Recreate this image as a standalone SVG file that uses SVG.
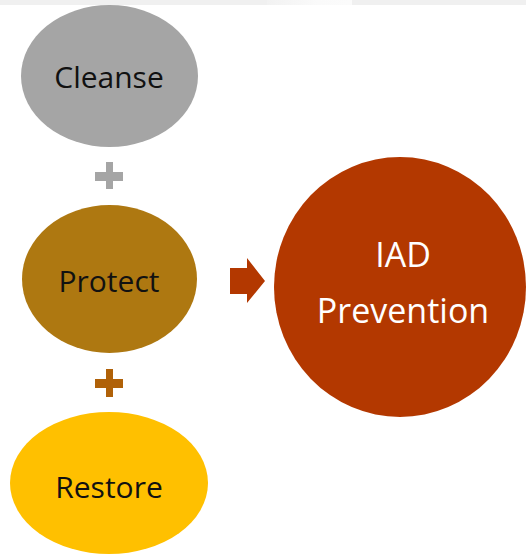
<svg xmlns="http://www.w3.org/2000/svg" width="526" height="556" viewBox="0 0 526 556">
  <style>
    .lbl { font-family: "Open Sans", "Noto Sans", "Liberation Sans", sans-serif; text-anchor: middle; }
    .dark { fill: #111111; font-size: 30px; }
    .light { fill: #ffffff; font-size: 34px; }
  </style>
  <defs>
    <linearGradient id="stripGlow" x1="0" y1="0" x2="1" y2="0">
      <stop offset="0" stop-color="#f2f2f2"/>
      <stop offset="0.6" stop-color="#fafafa"/>
      <stop offset="1" stop-color="#fbfbfb"/>
    </linearGradient>
  </defs>

  <rect x="0" y="0" width="526" height="556" fill="#ffffff"/>
  <!-- top strip -->
  <rect x="0" y="0" width="526" height="5" fill="#f0f0f0"/>
  <rect x="267" y="0" width="85" height="5" fill="url(#stripGlow)"/>

  <g id="cleanse">
    <ellipse cx="109.5" cy="76" rx="88.5" ry="71" fill="#a5a5a5"/>
    <text class="lbl dark" x="109" y="88">Cleanse</text>
  </g>

  <g id="protect">
    <ellipse cx="109.5" cy="279" rx="87.5" ry="74" fill="#ae7811"/>
    <text class="lbl dark" x="109" y="292">Protect</text>
  </g>

  <g id="restore">
    <ellipse cx="109" cy="483" rx="99" ry="71" fill="#ffc000"/>
    <text class="lbl dark" x="109" y="498">Restore</text>
  </g>

  <g id="iad-prevention">
    <ellipse cx="400" cy="287" rx="126" ry="130" fill="#b33800"/>
    <text class="lbl light" x="403" y="267">IAD</text>
    <text class="lbl light" x="403" y="323">Prevention</text>
  </g>

  <g id="connectors">
    <!-- plus between Cleanse and Protect -->
    <path d="M106 162 H113 V172 H123 V181 H113 V189 H106 V181 H95 V172 H106 Z" fill="#a5a5a5"/>
    <!-- plus between Protect and Restore -->
    <path d="M106 369 H113 V379 H123 V388 H113 V397 H106 V388 H95 V379 H106 Z" fill="#b06108"/>
    <!-- arrow into IAD Prevention -->
    <path d="M230 268 H247 V258 L265 281 L247 303 V294 H230 Z" fill="#b33800"/>
  </g>
</svg>
